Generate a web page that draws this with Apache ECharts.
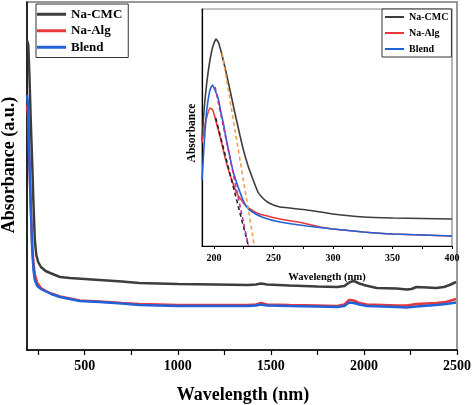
<!DOCTYPE html>
<html>
<head>
<meta charset="utf-8">
<script src="https://cdn.jsdelivr.net/npm/echarts@6/dist/echarts.min.js"></script>
<style>html,body{margin:0;padding:0;background:#fff}#c{width:474px;height:405px}</style>
</head>
<body>
<div id="c"></div>
<script>
// ---- data ----
var seriesNames = ['Na-CMC', 'Na-Alg', 'Blend'];
var mainTickLabels = [500, 1000, 1500, 2000, 2500];
var mainTicks = [250, 500, 750, 1000, 1250, 1500, 1750, 2000, 2250, 2500];
var insetTickLabels = [200, 250, 300, 350, 400];
var insetTicks = [200, 225, 250, 275, 300, 325, 350, 375, 400];

var mainCMC = [[190,3.10],[197,3.05],[203,2.75],[210,2.3],[218,1.87],[225,1.45],[232,1.1],[240,0.95],[250,0.88],[265,0.83],[290,0.79],[314,0.77],[367,0.73],[420,0.72],[500,0.71],[580,0.70],[700,0.685],[793,0.67],[1000,0.66],[1200,0.655],[1378,0.65],[1420,0.655],[1447,0.665],[1480,0.655],[1600,0.645],[1750,0.635],[1856,0.63],[1895,0.64],[1925,0.68],[1947,0.69],[1975,0.665],[2010,0.645],[2069,0.62],[2176,0.615],[2230,0.605],[2255,0.61],[2282,0.63],[2340,0.625],[2388,0.62],[2430,0.63],[2460,0.65],[2495,0.68]];
var mainAlg = [[190,2.45],[196,2.35],[203,1.85],[210,1.45],[218,1.05],[225,0.86],[232,0.76],[245,0.67],[265,0.62],[287,0.595],[320,0.565],[367,0.535],[420,0.515],[473,0.495],[580,0.485],[700,0.47],[793,0.46],[1000,0.45],[1200,0.45],[1378,0.45],[1420,0.455],[1447,0.47],[1480,0.455],[1600,0.45],[1750,0.445],[1856,0.44],[1895,0.455],[1920,0.50],[1945,0.495],[1975,0.47],[2016,0.455],[2100,0.45],[2176,0.445],[2230,0.445],[2282,0.46],[2388,0.47],[2440,0.48],[2495,0.51]];
var mainBlend = [[190,2.55],[196,2.45],[203,1.9],[210,1.45],[218,1.0],[225,0.8],[232,0.70],[245,0.64],[265,0.61],[287,0.59],[320,0.56],[367,0.53],[420,0.51],[473,0.49],[580,0.48],[700,0.465],[793,0.45],[1000,0.44],[1200,0.44],[1378,0.44],[1420,0.445],[1447,0.455],[1480,0.445],[1600,0.44],[1750,0.435],[1856,0.43],[1895,0.44],[1920,0.475],[1945,0.47],[1975,0.455],[2016,0.44],[2100,0.435],[2176,0.43],[2230,0.425],[2282,0.435],[2388,0.45],[2440,0.46],[2495,0.475]];

var insetCMC = [[190,1.06],[192,1.40],[194,1.63],[196.7,1.86],[199,1.99],[201.8,2.07],[204,2.03],[207,1.90],[210,1.75],[213.5,1.56],[218,1.31],[222,1.10],[225,0.95],[229,0.79],[233,0.66],[237,0.54],[241,0.48],[245,0.44],[250,0.41],[255.5,0.39],[278,0.36],[300,0.32],[325.6,0.29],[350.5,0.28],[400,0.27]];
var insetAlg = [[190,1.03],[192,1.18],[194,1.29],[196.7,1.38],[199,1.36],[201,1.28],[203.7,1.16],[206.5,1.03],[209.3,0.89],[212,0.77],[215,0.66],[219.2,0.53],[223,0.46],[227,0.40],[231.6,0.36],[236,0.33],[241.4,0.31],[255.5,0.27],[275,0.23],[289,0.19],[300,0.17],[325.6,0.14],[350.5,0.12],[400,0.10]];
var insetBlend = [[190,0.66],[192,1.05],[194,1.36],[196.5,1.55],[198.7,1.61],[200.9,1.56],[203.7,1.47],[206,1.33],[207.9,1.23],[210.5,1.06],[213.5,0.89],[216,0.75],[219.2,0.63],[223.4,0.49],[227,0.40],[231.6,0.345],[241.4,0.285],[255.5,0.24],[278,0.20],[300,0.17],[325.6,0.14],[350.5,0.12],[400,0.10]];

var tangentCMC = [[206.9,1.93],[234,0]];
var tangentAlg = [[201.5,1.28],[229,0]];
var tangentBlend = [[201,1.59],[229,0]];

// ---- chart ----
var FONT = "'Liberation Serif','Times New Roman',serif";
var colors = ['#3d3d3d', '#e8383d', '#2262d8'];
var chart = echarts.init(document.getElementById('c'), null, {renderer: 'canvas'});

function plain(v) { return String(v); }
function lineSeries(name, data, color, xi, w) {
  return {name: name, type: 'line', data: data, xAxisIndex: xi, yAxisIndex: xi,
    showSymbol: false, symbol: 'none', smooth: xi === 1 ? 0.15 : false,
    lineStyle: {color: color, width: w}, itemStyle: {color: color}, silent: true};
}
function dashSeries(data, color) {
  return {type: 'line', data: data, xAxisIndex: 1, yAxisIndex: 1, symbol: 'none',
    lineStyle: {color: color, width: 1.6, type: [4, 3]}, silent: true, z: 5};
}
var legendCommon = {
  orient: 'vertical', icon: 'rect', borderColor: '#333', borderWidth: 1,
  backgroundColor: '#fff', selectedMode: false, data: seriesNames
};

chart.setOption({
  animation: false,
  backgroundColor: '#fff',
  grid: [
    {left: 27, right: 14, top: 2, bottom: 55, show: true, borderColor: '#777', borderWidth: 1.5},
    {left: 202, right: 22, top: 9, bottom: 159, show: true, borderColor: '#888', borderWidth: 1.2}
  ],
  xAxis: [
    {type: 'value', gridIndex: 0, min: 190, max: 2500,
      axisLine: {lineStyle: {color: '#000', width: 1.5}},
      axisTick: {show: true, length: 5, inside: false, customValues: mainTicks, lineStyle: {color: '#000', width: 1.2}},
      axisLabel: {customValues: mainTickLabels, formatter: plain, margin: 9, fontFamily: FONT, fontWeight: 'bold', fontSize: 14, color: '#000'},
      splitLine: {show: false}},
    {type: 'value', gridIndex: 1, min: 190, max: 400,
      axisLine: {lineStyle: {color: '#000', width: 1.2}},
      axisTick: {show: true, length: 3, inside: false, customValues: insetTicks, lineStyle: {color: '#000', width: 1}},
      axisLabel: {customValues: insetTickLabels, formatter: plain, margin: 7, fontFamily: FONT, fontWeight: 'bold', fontSize: 10, color: '#000'},
      splitLine: {show: false}}
  ],
  yAxis: [
    {type: 'value', gridIndex: 0, min: 0, max: 3.48,
      axisLine: {show: true, lineStyle: {color: '#000', width: 1.5}},
      axisTick: {show: false}, axisLabel: {show: false}, splitLine: {show: false}},
    {type: 'value', gridIndex: 1, min: 0, max: 2.37,
      axisLine: {show: true, lineStyle: {color: '#000', width: 1.2}},
      axisTick: {show: false}, axisLabel: {show: false}, splitLine: {show: false}}
  ],
  legend: [
    Object.assign({}, legendCommon, {left: 36, top: 4, padding: [2, 6, 2, 1], itemGap: 0,
      itemWidth: 29, itemHeight: 3,
      textStyle: {fontFamily: FONT, fontWeight: 'bold', fontSize: 13, lineHeight: 16.5, color: '#000'}}),
    Object.assign({}, legendCommon, {left: 382, top: 9, padding: [0, 3, 0, 3], itemGap: 0,
      itemWidth: 19, itemHeight: 2,
      textStyle: {fontFamily: FONT, fontWeight: 'bold', fontSize: 10, lineHeight: 16, color: '#000'}})
  ],
  graphic: [
    {type: 'text', x: 243, y: 395, style: {text: 'Wavelength (nm)', font: 'bold 18px ' + FONT, fill: '#000', textAlign: 'center', textVerticalAlign: 'middle'}},
    {type: 'text', x: 9, y: 165, rotation: Math.PI / 2, style: {text: 'Absorbance (a.u.)', font: 'bold 18px ' + FONT, fill: '#000', textAlign: 'center', textVerticalAlign: 'middle'}},
    {type: 'text', x: 327, y: 277, z: 10, style: {text: 'Wavelength (nm)', font: 'bold 10.5px ' + FONT, fill: '#000', textAlign: 'center', textVerticalAlign: 'middle'}},
    {type: 'text', x: 192, y: 133, rotation: Math.PI / 2, style: {text: 'Absorbance', font: 'bold 11.5px ' + FONT, fill: '#000', textAlign: 'center', textVerticalAlign: 'middle'}}
  ],
  series: [
    lineSeries(seriesNames[0], mainCMC, colors[0], 0, 2.5),
    lineSeries(seriesNames[1], mainAlg, colors[1], 0, 2.5),
    lineSeries(seriesNames[2], mainBlend, colors[2], 0, 2.5),
    lineSeries(seriesNames[0], insetCMC, colors[0], 1, 1.6),
    lineSeries(seriesNames[1], insetAlg, colors[1], 1, 1.6),
    lineSeries(seriesNames[2], insetBlend, colors[2], 1, 1.6),
    dashSeries(tangentCMC, '#f0a050'),
    dashSeries(tangentAlg, '#222222'),
    dashSeries(tangentBlend, '#c0309a')
  ]
});
</script>
</body>
</html>
